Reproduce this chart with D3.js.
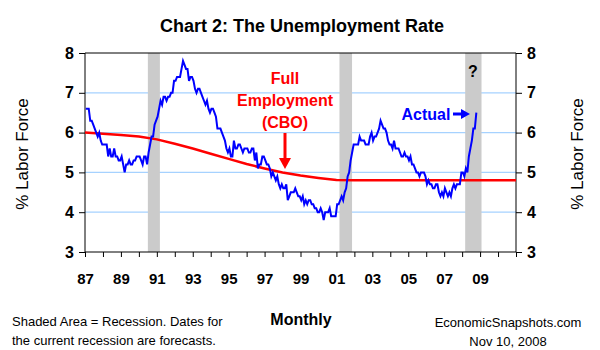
<!DOCTYPE html>
<html><head><meta charset="utf-8">
<script src="https://cdn.jsdelivr.net/npm/d3@7"></script>
<style>
body{margin:0;background:#fff;}
svg{display:block;font-family:"Liberation Sans",Arial,sans-serif;}
</style></head>
<body><svg id="c" width="600" height="350"></svg>
<script>
// ---- data ----
const startYear = 1987; // monthly series starts Jan 1987
const unemployment = [
 6.6,6.6,6.6,6.3,6.3,6.2,6.1,6.0,5.9,6.0,5.8,5.7,
 5.7,5.7,5.7,5.4,5.6,5.4,5.4,5.6,5.4,5.4,5.3,5.3,
 5.4,5.2,5.0,5.2,5.2,5.3,5.2,5.2,5.3,5.3,5.4,5.4,
 5.4,5.3,5.2,5.4,5.4,5.2,5.5,5.7,5.9,5.9,6.2,6.3,
 6.4,6.6,6.8,6.7,6.9,6.9,6.8,6.9,6.9,7.0,7.0,7.3,
 7.3,7.4,7.4,7.4,7.6,7.8,7.7,7.6,7.6,7.3,7.4,7.4,
 7.3,7.1,7.0,7.1,7.1,7.0,6.9,6.8,6.7,6.8,6.6,6.5,
 6.6,6.6,6.5,6.4,6.1,6.1,6.1,6.0,5.9,5.8,5.6,5.5,
 5.6,5.4,5.4,5.8,5.6,5.6,5.7,5.7,5.6,5.5,5.6,5.6,
 5.6,5.5,5.5,5.6,5.6,5.3,5.5,5.1,5.2,5.2,5.4,5.4,
 5.3,5.2,5.2,5.1,4.9,5.0,4.9,4.8,4.9,4.7,4.6,4.7,
 4.6,4.6,4.7,4.3,4.4,4.5,4.5,4.5,4.6,4.5,4.4,4.4,
 4.3,4.4,4.2,4.3,4.2,4.3,4.3,4.2,4.2,4.1,4.1,4.0,
 4.0,4.1,4.0,3.8,4.0,4.0,4.0,4.1,3.9,3.9,3.9,3.9,
 4.2,4.2,4.3,4.4,4.3,4.5,4.6,4.9,5.0,5.3,5.5,5.7,
 5.7,5.7,5.7,5.9,5.8,5.8,5.8,5.7,5.7,5.7,5.9,6.0,
 5.8,5.9,5.9,6.0,6.1,6.3,6.2,6.1,6.1,6.0,5.8,5.7,
 5.7,5.6,5.8,5.6,5.6,5.6,5.5,5.4,5.4,5.5,5.4,5.4,
 5.3,5.4,5.2,5.2,5.1,5.0,5.0,4.9,5.0,5.0,5.0,4.9,
 4.7,4.8,4.7,4.7,4.6,4.6,4.7,4.7,4.5,4.4,4.5,4.4,
 4.6,4.5,4.4,4.5,4.4,4.6,4.7,4.6,4.7,4.7,4.7,5.0,
 5.0,4.9,5.1,5.0,5.4,5.6,5.8,6.1,6.1,6.5
];
const cboYears = [1987,1988,1989,1990,1991,1992,1993,1994,1995,1996,1997,1998,1999,2000,2001,2002,2011];
const cboRate  = [6.00,5.97,5.94,5.90,5.83,5.72,5.60,5.47,5.34,5.21,5.10,5.00,4.92,4.86,4.81,4.80,4.80];
const recessions = [[1990.5,1991.17],[2001.17,2001.87],[2008.17,2009.08]];
const yTicks = [3,4,5,6,7,8];
const xLabelYears = [1987,1989,1991,1993,1995,1997,1999,2001,2003,2005,2007,2009];
const xLabels = ["87","89","91","93","95","97","99","01","03","05","07","09"];

// ---- layout ----
const svg = d3.select("#c");
const L = 85, R = 516, T = 53, B = 252;
const x = d3.scaleLinear().domain([1987, 2011]).range([L, R]);
const y = d3.scaleLinear().domain([3, 8]).range([B, T]);

// gridlines
svg.append("g").selectAll("line").data([4,5,6,7]).join("line")
  .attr("x1", L).attr("x2", R).attr("y1", d => y(d)).attr("y2", d => y(d))
  .attr("stroke", "#a6d2ff").attr("stroke-width", 1.2);

// recessions
svg.append("g").selectAll("rect").data(recessions).join("rect")
  .attr("x", d => x(d[0])).attr("width", d => x(d[1]) - x(d[0]))
  .attr("y", T).attr("height", B - T).attr("fill", "#cbcbcb");

// axes
const bold = g => g.selectAll("text").attr("font-size", 16).attr("font-weight", "bold").attr("fill", "#000").attr("font-family", "Liberation Sans, Arial, sans-serif");
svg.append("g").attr("transform", `translate(${L},0)`)
  .call(d3.axisLeft(y).tickValues(yTicks).tickSize(6).tickPadding(5).tickFormat(d3.format("d")))
  .call(g => g.select(".domain").attr("d", `M0,${T}V${B}`))
  .call(bold);
svg.append("g").attr("transform", `translate(${R},0)`)
  .call(d3.axisRight(y).tickValues(yTicks).tickSize(6).tickPadding(5).tickFormat(d3.format("d")))
  .call(g => g.select(".domain").attr("d", `M0,${T}V${B}`))
  .call(bold);
svg.append("g").attr("transform", `translate(0,${B})`)
  .call(d3.axisBottom(x).tickValues(d3.range(1987, 2012)).tickSize(5).tickFormat(""))
  .call(g => g.select(".domain").attr("d", `M${L},0H${R}`));
svg.append("g").attr("transform", `translate(0,${B})`)
  .call(d3.axisBottom(x).tickValues(xLabelYears).tickSize(0).tickPadding(21).tickFormat((d, i) => xLabels[i]))
  .call(g => g.select(".domain").remove())
  .call(g => g.selectAll("text").attr("font-size", 15).attr("font-weight", "bold").attr("fill", "#000"));
svg.append("line").attr("x1", L).attr("x2", R).attr("y1", T).attr("y2", T).attr("stroke", "#000");

// lines
const cbo = cboYears.map((yr, i) => [yr, cboRate[i]]);
svg.append("path").datum(cbo)
  .attr("d", d3.line().x(d => x(d[0])).y(d => y(d[1])))
  .attr("fill", "none").attr("stroke", "#ff0000").attr("stroke-width", 2.5);
const actual = unemployment.map((v, i) => [startYear + (i + 0.5) / 12, v]);
svg.append("path").datum(actual)
  .attr("d", d3.line().x(d => x(d[0])).y(d => y(d[1])))
  .attr("fill", "none").attr("stroke", "#0000ff").attr("stroke-width", 2);

// annotations
const ann = svg.append("g").attr("font-weight", "bold").attr("font-size", 16).attr("text-anchor", "middle");
ann.append("text").attr("x", 285).attr("y", 84).attr("fill", "#ff0000").text("Full");
ann.append("text").attr("x", 285).attr("y", 106).attr("fill", "#ff0000").text("Employment");
ann.append("text").attr("x", 285).attr("y", 128).attr("fill", "#ff0000").text("(CBO)");
svg.append("line").attr("x1", 285).attr("x2", 285).attr("y1", 133).attr("y2", 160).attr("stroke", "#ff0000").attr("stroke-width", 3);
svg.append("path").attr("d", "M279,158L291,158L285,169Z").attr("fill", "#ff0000");
ann.append("text").attr("x", 426).attr("y", 120).attr("fill", "#0000ff").text("Actual");
svg.append("line").attr("x1", 453).attr("x2", 463).attr("y1", 114).attr("y2", 114).attr("stroke", "#0000ff").attr("stroke-width", 3);
svg.append("path").attr("d", "M461,109L461,119L470,114Z").attr("fill", "#0000ff");
ann.append("text").attr("x", 473).attr("y", 77).attr("fill", "#000").text("?");

// titles
svg.append("text").attr("x", 302).attr("y", 32).attr("text-anchor", "middle")
  .attr("font-size", 18).attr("font-weight", "bold").text("Chart 2: The Unemployment Rate");
svg.append("text").attr("transform", "translate(28,154) rotate(-90)").attr("text-anchor", "middle")
  .attr("font-size", 17).text("% Labor Force");
svg.append("text").attr("transform", "translate(583,154) rotate(-90)").attr("text-anchor", "middle")
  .attr("font-size", 17).text("% Labor Force");
svg.append("text").attr("x", 301).attr("y", 325).attr("text-anchor", "middle")
  .attr("font-size", 16).attr("font-weight", "bold").text("Monthly");
const foot = svg.append("g").attr("font-size", 13);
foot.append("text").attr("x", 12).attr("y", 326).text("Shaded Area = Recession. Dates for");
foot.append("text").attr("x", 12).attr("y", 345).text("the current recession are forecasts.");
foot.append("text").attr("x", 508).attr("y", 327).attr("text-anchor", "middle").text("EconomicSnapshots.com");
foot.append("text").attr("x", 508).attr("y", 346).attr("text-anchor", "middle").text("Nov 10, 2008");
</script></body></html>
